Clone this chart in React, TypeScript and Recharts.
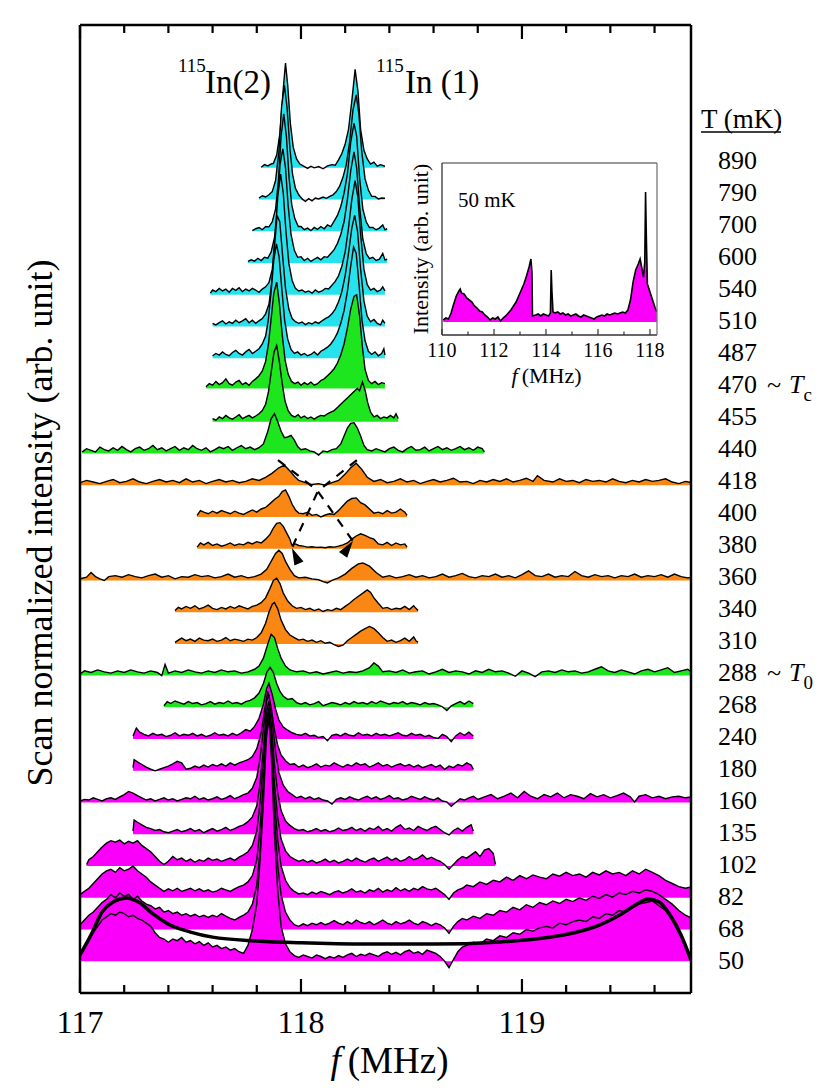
import { ComposedChart, Area, Line, Scatter, XAxis, YAxis, Label } from "recharts"

type Pt = [number, number]

const SERIF = "'Liberation Serif', 'Times New Roman', Times, serif"

// temperature of each scan, top to bottom (mK)
const temps = ["890", "790", "700", "600", "540", "510", "487", "470", "455", "440", "418", "400", "380", "360", "340", "310", "288", "268", "240", "180", "160", "135", "102", "82", "68", "50"]
// vertical offset of each scan (arb. unit)
const offsets = [26, 25, 24, 23, 22, 21, 20, 19.05, 18, 17, 16, 15, 14, 13, 12, 11, 10, 9, 8, 7, 6, 5, 4, 3, 2, 1]
// phase of each scan: n normal, s transition, a A-phase, m low-T
const phases = ["n", "n", "n", "n", "n", "n", "n", "s", "s", "s", "a", "a", "a", "a", "a", "a", "s", "s", "m", "m", "m", "m", "m", "m", "m", "m"]
const phaseColor: Record<string, string> = { n: "#26E2EC", s: "#1EE61E", a: "#FA8714", m: "#FA00FA" }

// spectra: [f (MHz), intensity above own baseline]
const s890: Pt[] = [[117.82,0.02],[117.835,0.1],[117.85,0.06],[117.865,0.12],[117.875,0.14],[117.89,0.4],[117.905,1.1],[117.92,2.5],[117.93,3.3],[117.94,2.6],[117.952,1.4],[117.965,0.65],[117.98,0.28],[117.995,0.12],[118.01,0.06],[118.03,-0.02],[118.045,0.05],[118.06,0.0],[118.08,0.04],[118.1,-0.03],[118.12,0.06],[118.14,0.1],[118.155,0.08],[118.17,0.25],[118.185,0.45],[118.2,0.75],[118.215,1.2],[118.23,2.1],[118.245,3.1],[118.258,2.4],[118.27,1.2],[118.285,0.55],[118.3,0.28],[118.315,0.12],[118.33,0.18],[118.345,0.05],[118.36,0.1],[118.38,0.05]]
const s790: Pt[] = [[117.81,0.05],[117.825,0.12],[117.84,0.08],[117.855,0.15],[117.87,0.25],[117.885,0.6],[117.9,1.5],[117.912,2.9],[117.925,3.6],[117.937,2.9],[117.95,1.6],[117.962,0.8],[117.975,0.35],[117.99,0.15],[118.005,0.02],[118.02,-0.06],[118.035,0.03],[118.05,-0.04],[118.065,0.05],[118.08,0.02],[118.1,0.08],[118.115,0.04],[118.13,0.1],[118.145,0.15],[118.16,0.25],[118.175,0.42],[118.19,0.7],[118.205,1.1],[118.22,1.8],[118.235,2.8],[118.25,3.3],[118.262,2.7],[118.275,1.5],[118.29,0.65],[118.305,0.3],[118.32,0.1],[118.335,0.1],[118.35,0.02],[118.365,0.05],[118.38,0.04]]
const s700: Pt[] = [[117.78,0.02],[117.795,0.08],[117.81,0.12],[117.825,0.05],[117.84,0.15],[117.855,0.14],[117.87,0.3],[117.885,0.7],[117.898,1.6],[117.91,3.0],[117.922,3.7],[117.934,3.0],[117.946,1.7],[117.958,0.85],[117.972,0.4],[117.988,0.15],[118.0,0.15],[118.015,0.05],[118.03,0.1],[118.045,0.02],[118.06,0.12],[118.075,0.06],[118.09,0.15],[118.105,0.08],[118.12,0.2],[118.135,0.15],[118.15,0.32],[118.165,0.5],[118.18,0.78],[118.195,1.2],[118.21,1.8],[118.225,2.8],[118.24,3.4],[118.252,3.0],[118.265,1.7],[118.28,0.7],[118.295,0.3],[118.31,0.12],[118.325,0.12],[118.34,0.05],[118.355,0.1],[118.37,0.2],[118.38,0.05],[118.39,0.08]]
const s600: Pt[] = [[117.76,0.05],[117.775,0.1],[117.79,0.06],[117.805,0.15],[117.82,0.08],[117.835,0.18],[117.85,0.15],[117.865,0.35],[117.88,0.8],[117.893,1.7],[117.905,3.1],[117.918,3.6],[117.93,3.0],[117.942,1.8],[117.955,0.9],[117.97,0.4],[117.985,0.18],[118.0,0.2],[118.015,0.08],[118.03,0.15],[118.045,0.05],[118.06,0.12],[118.075,0.18],[118.09,0.1],[118.105,0.2],[118.12,0.18],[118.135,0.3],[118.15,0.42],[118.165,0.62],[118.18,0.9],[118.195,1.3],[118.21,2.0],[118.225,2.9],[118.24,3.5],[118.252,3.0],[118.265,1.8],[118.28,0.75],[118.295,0.3],[118.31,0.14],[118.325,0.18],[118.34,0.08],[118.355,0.12],[118.37,0.3],[118.38,0.1],[118.39,0.12]]
const s540: Pt[] = [[117.59,0.05],[117.6,0.15],[117.615,0.1],[117.63,0.2],[117.645,0.12],[117.66,0.18],[117.675,0.08],[117.69,0.2],[117.705,0.14],[117.72,0.22],[117.735,0.1],[117.75,0.18],[117.765,0.12],[117.78,0.2],[117.795,0.15],[117.81,0.08],[117.825,0.18],[117.84,0.25],[117.855,0.38],[117.87,0.8],[117.883,1.8],[117.895,3.1],[117.908,3.8],[117.92,3.2],[117.932,2.0],[117.945,1.0],[117.96,0.45],[117.975,0.2],[117.99,0.12],[118.005,0.15],[118.02,0.08],[118.035,0.12],[118.05,0.05],[118.065,0.15],[118.08,0.08],[118.095,0.12],[118.11,0.2],[118.125,0.18],[118.14,0.3],[118.155,0.42],[118.17,0.6],[118.185,0.9],[118.2,1.35],[118.215,2.1],[118.23,3.0],[118.245,3.6],[118.257,3.1],[118.27,1.9],[118.285,0.8],[118.3,0.32],[118.315,0.15],[118.33,0.2],[118.345,0.1],[118.36,0.15],[118.37,0.25],[118.38,0.12]]
const s510: Pt[] = [[117.6,0.1],[117.615,0.05],[117.63,0.12],[117.645,0.18],[117.66,0.08],[117.675,0.15],[117.69,0.1],[117.705,0.2],[117.72,0.12],[117.735,0.18],[117.75,0.25],[117.765,0.12],[117.78,0.2],[117.795,0.1],[117.81,0.18],[117.825,0.25],[117.84,0.4],[117.855,0.7],[117.868,1.4],[117.88,2.5],[117.892,3.5],[117.904,3.3],[117.916,2.3],[117.93,1.2],[117.945,0.55],[117.96,0.25],[117.975,0.15],[117.99,0.1],[118.005,0.14],[118.02,0.06],[118.035,0.12],[118.05,0.08],[118.065,0.15],[118.08,0.1],[118.095,0.18],[118.11,0.25],[118.125,0.3],[118.14,0.4],[118.155,0.55],[118.17,0.78],[118.185,1.1],[118.2,1.6],[118.215,2.3],[118.23,3.1],[118.243,3.5],[118.256,3.0],[118.27,1.8],[118.285,0.8],[118.3,0.32],[118.315,0.15],[118.33,0.22],[118.345,0.1],[118.36,0.05],[118.37,0.2],[118.38,0.1]]
const s487: Pt[] = [[117.6,0.08],[117.615,0.15],[117.63,0.1],[117.645,0.2],[117.66,0.12],[117.675,0.08],[117.69,0.18],[117.705,0.25],[117.72,0.15],[117.735,0.1],[117.75,0.2],[117.765,0.28],[117.78,0.15],[117.795,0.22],[117.81,0.3],[117.825,0.45],[117.84,0.7],[117.852,1.2],[117.865,2.1],[117.877,3.1],[117.889,3.6],[117.901,3.2],[117.913,2.2],[117.926,1.2],[117.94,0.6],[117.955,0.28],[117.97,0.15],[117.985,0.2],[118.0,0.1],[118.015,0.15],[118.03,0.08],[118.045,0.12],[118.06,0.2],[118.075,0.1],[118.09,0.22],[118.105,0.28],[118.12,0.35],[118.135,0.45],[118.15,0.6],[118.165,0.8],[118.18,1.1],[118.195,1.5],[118.21,2.1],[118.225,2.9],[118.238,3.5],[118.25,3.3],[118.263,2.3],[118.276,1.2],[118.29,0.55],[118.305,0.22],[118.32,0.12],[118.335,0.2],[118.35,0.08],[118.365,0.15],[118.375,0.3],[118.38,0.1]]
const s470: Pt[] = [[117.57,0.05],[117.585,0.15],[117.6,0.1],[117.615,0.22],[117.63,0.12],[117.645,0.18],[117.66,0.3],[117.675,0.15],[117.69,0.1],[117.705,0.2],[117.72,0.25],[117.735,0.12],[117.75,0.18],[117.765,0.1],[117.78,0.22],[117.795,0.3],[117.81,0.4],[117.825,0.55],[117.84,0.85],[117.853,1.4],[117.865,2.2],[117.877,3.0],[117.89,3.35],[117.902,2.7],[117.915,1.7],[117.928,0.9],[117.942,0.45],[117.957,0.22],[117.972,0.15],[117.987,0.2],[118.0,0.1],[118.015,0.18],[118.03,0.12],[118.045,0.2],[118.06,0.1],[118.075,0.15],[118.09,0.25],[118.105,0.3],[118.12,0.4],[118.135,0.5],[118.15,0.62],[118.165,0.8],[118.18,1.05],[118.195,1.4],[118.21,1.9],[118.225,2.5],[118.24,2.9],[118.252,2.95],[118.265,2.3],[118.278,1.3],[118.29,0.6],[118.305,0.25],[118.32,0.15],[118.335,0.22],[118.35,0.12],[118.365,0.18],[118.38,0.15]]
const s455: Pt[] = [[117.6,0.1],[117.615,0.05],[117.63,0.15],[117.645,0.1],[117.66,0.2],[117.675,0.12],[117.69,0.08],[117.705,0.15],[117.72,0.22],[117.735,0.1],[117.75,0.15],[117.765,0.2],[117.78,0.12],[117.795,0.18],[117.81,0.25],[117.825,0.35],[117.84,0.55],[117.853,0.95],[117.866,1.6],[117.878,2.2],[117.89,2.4],[117.902,1.9],[117.915,1.2],[117.928,0.65],[117.942,0.35],[117.957,0.2],[117.972,0.15],[117.987,0.22],[118.0,0.12],[118.015,0.18],[118.03,0.1],[118.045,0.15],[118.06,0.08],[118.075,0.15],[118.09,0.2],[118.105,0.18],[118.12,0.25],[118.135,0.3],[118.15,0.35],[118.165,0.45],[118.18,0.55],[118.195,0.65],[118.21,0.75],[118.225,0.85],[118.24,0.95],[118.255,1.05],[118.265,0.98],[118.278,1.25],[118.29,1.0],[118.302,0.6],[118.315,0.3],[118.33,0.15],[118.345,0.2],[118.36,0.1],[118.375,0.15],[118.39,0.12],[118.405,0.2],[118.42,0.12],[118.43,0.25],[118.44,0.1]]
const s440: Pt[] = [[117.01,0.05],[117.03,0.15],[117.05,0.1],[117.07,0.05],[117.09,0.2],[117.11,0.12],[117.13,0.08],[117.15,0.18],[117.17,0.1],[117.19,0.22],[117.21,0.12],[117.23,0.05],[117.25,0.15],[117.27,0.2],[117.29,0.1],[117.31,0.15],[117.33,0.25],[117.35,0.12],[117.37,0.18],[117.39,0.08],[117.41,0.15],[117.43,0.22],[117.45,0.1],[117.47,0.18],[117.49,0.12],[117.51,0.25],[117.53,0.15],[117.55,0.1],[117.57,0.18],[117.59,0.05],[117.61,0.12],[117.63,0.2],[117.65,0.15],[117.67,0.22],[117.69,0.1],[117.71,0.18],[117.73,0.25],[117.75,0.15],[117.77,0.2],[117.79,0.12],[117.81,0.18],[117.83,0.3],[117.85,0.7],[117.865,1.1],[117.88,1.25],[117.895,1.0],[117.91,0.7],[117.925,0.5],[117.94,0.52],[117.955,0.57],[117.97,0.42],[117.985,0.22],[118.0,0.12],[118.02,0.15],[118.04,0.08],[118.06,0.05],[118.08,-0.05],[118.1,0.08],[118.12,0.05],[118.14,0.12],[118.16,0.15],[118.18,0.3],[118.195,0.55],[118.21,0.8],[118.225,0.95],[118.24,0.97],[118.255,0.8],[118.27,0.55],[118.285,0.25],[118.3,0.12],[118.32,0.08],[118.34,0.15],[118.36,0.1],[118.38,0.05],[118.4,0.15],[118.42,0.2],[118.44,0.1],[118.46,0.05],[118.48,0.15],[118.5,0.22],[118.52,0.1],[118.54,0.12],[118.56,0.2],[118.58,0.08],[118.6,0.15],[118.62,0.22],[118.64,0.12],[118.66,0.18],[118.68,0.1],[118.7,0.15],[118.72,0.22],[118.74,0.12],[118.76,0.18],[118.78,0.1],[118.8,0.2],[118.82,0.15],[118.83,0.05]]
const s418: Pt[] = [[117.0,0.08],[117.03,0.15],[117.06,0.1],[117.09,0.05],[117.12,0.12],[117.15,0.18],[117.18,0.08],[117.21,0.12],[117.24,0.2],[117.27,0.1],[117.3,0.05],[117.33,0.12],[117.36,0.18],[117.39,0.1],[117.42,0.15],[117.45,0.08],[117.48,0.2],[117.51,0.1],[117.54,0.15],[117.57,0.05],[117.6,0.12],[117.63,0.18],[117.66,0.1],[117.69,0.15],[117.72,0.08],[117.75,0.12],[117.78,0.2],[117.81,0.15],[117.84,0.25],[117.87,0.38],[117.9,0.55],[117.925,0.63],[117.95,0.45],[117.97,0.28],[117.99,0.15],[118.02,0.08],[118.05,0.02],[118.08,0.05],[118.11,0.0],[118.14,0.08],[118.17,0.15],[118.2,0.35],[118.225,0.55],[118.25,0.69],[118.275,0.5],[118.3,0.25],[118.33,0.12],[118.36,0.18],[118.39,0.08],[118.42,0.12],[118.45,0.2],[118.48,0.1],[118.51,0.15],[118.54,0.05],[118.57,0.12],[118.6,0.18],[118.63,0.1],[118.66,0.15],[118.69,0.22],[118.72,0.1],[118.75,0.12],[118.78,0.05],[118.81,0.15],[118.84,0.1],[118.87,0.18],[118.9,0.12],[118.93,0.2],[118.96,0.1],[118.99,0.15],[119.02,0.22],[119.05,0.12],[119.07,0.3],[119.1,0.15],[119.14,0.1],[119.17,0.2],[119.2,0.12],[119.23,0.15],[119.26,0.08],[119.29,0.18],[119.32,0.12],[119.35,0.15],[119.38,0.1],[119.41,0.2],[119.44,0.12],[119.47,0.08],[119.5,0.15],[119.53,0.1],[119.56,0.18],[119.59,0.12],[119.62,0.15],[119.65,0.2],[119.68,0.1],[119.71,0.05],[119.74,0.12],[119.77,0.08]]
const s400: Pt[] = [[117.53,0.05],[117.545,0.2],[117.56,0.15],[117.58,0.1],[117.6,0.18],[117.62,0.12],[117.64,0.2],[117.66,0.15],[117.68,0.1],[117.7,0.18],[117.72,0.12],[117.74,0.08],[117.76,0.15],[117.78,0.22],[117.8,0.15],[117.82,0.25],[117.84,0.3],[117.86,0.42],[117.88,0.55],[117.9,0.65],[117.915,0.8],[117.93,0.85],[117.945,0.65],[117.96,0.4],[117.975,0.22],[117.99,0.12],[118.01,0.1],[118.03,0.15],[118.05,0.05],[118.07,0.08],[118.09,0.0],[118.11,0.06],[118.13,0.1],[118.15,0.08],[118.17,0.2],[118.19,0.35],[118.21,0.5],[118.23,0.58],[118.25,0.6],[118.27,0.45],[118.29,0.38],[118.31,0.25],[118.33,0.12],[118.35,0.15],[118.37,0.1],[118.39,0.2],[118.41,0.12],[118.43,0.15],[118.45,0.25],[118.47,0.15],[118.48,0.05]]
const s380: Pt[] = [[117.53,0.05],[117.545,0.18],[117.56,0.12],[117.58,0.2],[117.6,0.1],[117.62,0.15],[117.64,0.08],[117.66,0.12],[117.68,0.18],[117.7,0.1],[117.72,0.15],[117.74,0.12],[117.76,0.2],[117.78,0.15],[117.8,0.22],[117.82,0.18],[117.84,0.3],[117.86,0.45],[117.875,0.65],[117.89,0.8],[117.905,0.82],[117.92,0.7],[117.935,0.5],[117.95,0.3],[117.958,0.12],[117.975,0.15],[117.99,0.1],[118.01,0.08],[118.03,0.05],[118.05,0.06],[118.07,0.04],[118.09,0.05],[118.11,0.03],[118.13,0.06],[118.15,0.05],[118.17,0.08],[118.19,0.12],[118.21,0.18],[118.23,0.3],[118.25,0.4],[118.27,0.47],[118.29,0.42],[118.31,0.35],[118.33,0.3],[118.35,0.15],[118.37,0.12],[118.39,0.2],[118.41,0.1],[118.43,0.18],[118.45,0.12],[118.47,0.15],[118.48,0.05]]
const s360: Pt[] = [[117.0,0.05],[117.03,0.1],[117.05,0.25],[117.07,0.12],[117.09,0.05],[117.11,0.0],[117.13,0.12],[117.16,0.15],[117.19,0.1],[117.22,0.18],[117.25,0.12],[117.28,0.08],[117.31,0.15],[117.34,0.2],[117.37,0.1],[117.4,0.15],[117.43,0.05],[117.46,0.12],[117.49,0.1],[117.52,0.18],[117.55,0.12],[117.58,0.15],[117.61,0.08],[117.64,0.12],[117.67,0.2],[117.7,0.1],[117.73,0.15],[117.76,0.08],[117.79,0.12],[117.82,0.2],[117.845,0.35],[117.865,0.6],[117.885,0.85],[117.9,0.95],[117.915,0.85],[117.93,0.6],[117.95,0.35],[117.97,0.15],[117.99,0.08],[118.02,0.1],[118.05,0.05],[118.08,0.02],[118.1,-0.04],[118.12,-0.08],[118.14,0.0],[118.17,0.08],[118.2,0.2],[118.23,0.38],[118.26,0.52],[118.28,0.55],[118.31,0.45],[118.34,0.25],[118.37,0.1],[118.4,0.15],[118.43,0.08],[118.46,0.12],[118.49,0.18],[118.52,0.1],[118.55,0.15],[118.58,0.08],[118.61,0.12],[118.64,0.2],[118.67,0.1],[118.7,0.15],[118.73,0.22],[118.76,0.12],[118.79,0.08],[118.82,0.15],[118.85,0.12],[118.88,0.2],[118.91,0.1],[118.94,0.15],[118.97,0.08],[119.0,0.18],[119.03,0.3],[119.06,0.15],[119.09,0.12],[119.12,0.2],[119.15,0.1],[119.18,0.15],[119.21,0.12],[119.24,0.28],[119.27,0.15],[119.3,0.1],[119.33,0.18],[119.36,0.12],[119.39,0.15],[119.42,0.08],[119.45,0.15],[119.48,0.12],[119.51,0.2],[119.54,0.1],[119.57,0.15],[119.6,0.12],[119.63,0.18],[119.66,0.1],[119.69,0.2],[119.72,0.12],[119.75,0.08],[119.77,0.1]]
const s340: Pt[] = [[117.43,0.05],[117.445,0.15],[117.46,0.1],[117.48,0.18],[117.5,0.12],[117.52,0.2],[117.54,0.1],[117.56,0.15],[117.58,0.22],[117.6,0.12],[117.62,0.08],[117.64,0.15],[117.66,0.1],[117.68,0.18],[117.7,0.12],[117.72,0.2],[117.74,0.15],[117.76,0.1],[117.78,0.18],[117.8,0.22],[117.82,0.3],[117.84,0.45],[117.86,0.75],[117.875,1.0],[117.89,1.07],[117.905,0.9],[117.92,0.6],[117.94,0.35],[117.96,0.2],[117.98,0.12],[118.0,0.15],[118.02,0.08],[118.04,0.12],[118.06,0.05],[118.08,0.1],[118.1,0.02],[118.12,0.08],[118.14,0.05],[118.16,0.12],[118.18,0.08],[118.2,0.18],[118.22,0.28],[118.24,0.4],[118.26,0.5],[118.28,0.6],[118.3,0.7],[118.315,0.62],[118.33,0.45],[118.35,0.28],[118.37,0.12],[118.39,0.15],[118.41,0.08],[118.43,0.12],[118.45,0.1],[118.47,0.18],[118.49,0.08],[118.51,0.2],[118.52,0.12],[118.53,0.05]]
const s310: Pt[] = [[117.43,0.05],[117.445,0.12],[117.46,0.18],[117.48,0.1],[117.5,0.15],[117.52,0.08],[117.54,0.18],[117.56,0.12],[117.58,0.1],[117.6,0.15],[117.62,0.08],[117.64,0.12],[117.66,0.2],[117.68,0.1],[117.7,0.15],[117.72,0.12],[117.74,0.08],[117.76,0.15],[117.78,0.12],[117.8,0.2],[117.82,0.35],[117.84,0.65],[117.855,1.0],[117.87,1.25],[117.88,1.3],[117.895,1.1],[117.91,0.75],[117.93,0.45],[117.95,0.28],[117.97,0.2],[117.99,0.12],[118.01,0.15],[118.03,0.08],[118.05,0.12],[118.07,0.05],[118.09,0.1],[118.11,0.02],[118.13,0.05],[118.15,-0.02],[118.17,-0.08],[118.19,-0.04],[118.21,0.1],[118.23,0.2],[118.25,0.3],[118.27,0.4],[118.29,0.48],[118.31,0.55],[118.33,0.48],[118.35,0.35],[118.37,0.2],[118.39,0.08],[118.41,0.12],[118.43,0.05],[118.45,0.1],[118.47,0.18],[118.49,0.08],[118.51,0.22],[118.52,0.1],[118.53,0.05]]
const s288: Pt[] = [[117.0,0.05],[117.02,0.15],[117.05,0.1],[117.08,0.18],[117.11,0.12],[117.14,0.08],[117.17,0.15],[117.2,0.1],[117.23,0.18],[117.26,0.12],[117.29,0.08],[117.32,0.15],[117.35,0.1],[117.37,0.0],[117.385,0.35],[117.4,0.08],[117.43,0.15],[117.46,0.1],[117.49,0.18],[117.52,0.12],[117.55,0.08],[117.58,0.15],[117.61,0.1],[117.64,0.18],[117.67,0.12],[117.7,0.15],[117.73,0.08],[117.76,0.12],[117.79,0.2],[117.81,0.3],[117.83,0.55],[117.85,1.0],[117.865,1.3],[117.88,1.2],[117.895,0.85],[117.91,0.55],[117.93,0.3],[117.95,0.18],[117.98,0.12],[118.01,0.15],[118.04,0.08],[118.07,0.12],[118.1,0.05],[118.13,0.1],[118.16,0.15],[118.19,0.08],[118.22,0.12],[118.25,0.1],[118.28,0.15],[118.31,0.25],[118.33,0.4],[118.35,0.3],[118.37,0.12],[118.4,0.15],[118.43,0.1],[118.46,0.18],[118.49,0.08],[118.52,0.12],[118.55,0.15],[118.58,0.05],[118.61,0.12],[118.64,0.2],[118.67,0.1],[118.7,0.15],[118.73,0.12],[118.76,0.05],[118.79,0.15],[118.82,0.1],[118.85,0.2],[118.88,0.12],[118.91,0.15],[118.94,0.08],[118.97,-0.02],[119.0,0.15],[119.03,0.08],[119.06,-0.03],[119.09,0.12],[119.12,0.15],[119.15,0.1],[119.18,0.18],[119.21,0.12],[119.24,0.15],[119.27,0.08],[119.3,0.12],[119.33,0.2],[119.36,0.28],[119.39,0.15],[119.42,0.1],[119.45,0.18],[119.48,0.12],[119.51,0.05],[119.54,0.15],[119.57,0.2],[119.6,0.12],[119.63,0.18],[119.66,0.25],[119.69,0.1],[119.72,0.15],[119.75,0.2],[119.77,0.1]]
const s268: Pt[] = [[117.38,0.05],[117.395,0.18],[117.41,0.12],[117.43,0.2],[117.45,0.15],[117.47,0.1],[117.49,0.18],[117.51,0.12],[117.53,0.15],[117.55,0.08],[117.57,0.12],[117.59,0.18],[117.61,0.1],[117.63,0.15],[117.65,0.12],[117.67,0.2],[117.69,0.12],[117.71,0.15],[117.73,0.1],[117.75,0.18],[117.77,0.22],[117.79,0.3],[117.81,0.45],[117.83,0.75],[117.845,1.1],[117.86,1.26],[117.875,1.1],[117.89,0.75],[117.905,0.5],[117.92,0.35],[117.94,0.25],[117.96,0.28],[117.98,0.15],[118.0,0.1],[118.02,0.15],[118.04,0.08],[118.06,0.12],[118.08,0.18],[118.1,0.05],[118.12,0.1],[118.14,0.15],[118.16,0.12],[118.18,0.08],[118.2,0.15],[118.22,0.1],[118.24,0.18],[118.26,0.12],[118.28,0.15],[118.3,0.1],[118.32,0.18],[118.34,0.12],[118.36,0.2],[118.38,0.15],[118.4,0.1],[118.42,0.15],[118.44,0.12],[118.46,0.18],[118.48,0.1],[118.5,0.15],[118.52,0.12],[118.54,0.08],[118.56,0.15],[118.58,0.1],[118.6,0.12],[118.62,0.08],[118.64,0.02],[118.66,-0.1],[118.68,0.05],[118.7,0.12],[118.72,0.18],[118.74,0.1],[118.76,0.2],[118.78,0.12]]
const s240: Pt[] = [[117.24,0.1],[117.255,0.35],[117.27,0.22],[117.29,0.15],[117.31,0.1],[117.33,0.18],[117.35,0.12],[117.37,0.15],[117.39,0.08],[117.41,0.12],[117.43,0.2],[117.45,0.1],[117.47,0.15],[117.49,0.12],[117.51,0.18],[117.53,0.1],[117.55,0.15],[117.57,0.08],[117.59,0.12],[117.61,0.2],[117.63,0.12],[117.65,0.15],[117.67,0.1],[117.69,0.18],[117.71,0.12],[117.73,0.2],[117.75,0.3],[117.77,0.25],[117.79,0.4],[117.81,0.65],[117.83,1.1],[117.845,1.6],[117.855,1.76],[117.87,1.4],[117.885,0.95],[117.9,0.6],[117.92,0.38],[117.94,0.28],[117.96,0.2],[117.98,0.15],[118.0,0.12],[118.02,0.18],[118.04,0.1],[118.06,0.12],[118.08,0.05],[118.1,0.08],[118.12,-0.05],[118.14,0.12],[118.16,0.15],[118.18,0.1],[118.2,0.18],[118.22,0.12],[118.24,0.1],[118.26,0.2],[118.28,0.12],[118.3,0.15],[118.32,0.1],[118.34,0.18],[118.36,0.12],[118.38,0.15],[118.4,0.1],[118.42,0.15],[118.44,0.2],[118.46,0.12],[118.48,0.1],[118.5,0.18],[118.52,0.12],[118.54,0.15],[118.56,0.08],[118.58,0.12],[118.6,0.05],[118.62,0.02],[118.64,0.15],[118.66,0.08],[118.68,-0.08],[118.7,0.1],[118.72,0.2],[118.74,0.12],[118.76,0.22],[118.78,0.1]]
const s180: Pt[] = [[117.24,0.1],[117.245,0.35],[117.26,0.28],[117.28,0.2],[117.3,0.12],[117.32,0.05],[117.34,0.0],[117.36,0.05],[117.38,0.1],[117.4,0.15],[117.42,0.22],[117.44,0.3],[117.46,0.25],[117.48,0.05],[117.5,0.08],[117.52,0.15],[117.54,0.1],[117.56,0.18],[117.58,0.12],[117.6,0.2],[117.62,0.15],[117.64,0.22],[117.66,0.15],[117.68,0.25],[117.7,0.18],[117.72,0.25],[117.74,0.3],[117.76,0.35],[117.78,0.45],[117.8,0.7],[117.82,1.2],[117.835,1.9],[117.85,2.5],[117.865,2.0],[117.88,1.3],[117.895,0.8],[117.91,0.5],[117.93,0.32],[117.95,0.2],[117.97,0.22],[117.99,0.12],[118.01,0.18],[118.03,0.1],[118.05,0.15],[118.07,0.22],[118.09,0.12],[118.11,0.18],[118.13,0.15],[118.15,0.25],[118.17,0.18],[118.19,0.12],[118.21,0.2],[118.23,0.15],[118.25,0.25],[118.27,0.18],[118.29,0.22],[118.31,0.12],[118.33,0.18],[118.35,0.25],[118.37,0.15],[118.39,0.2],[118.41,0.12],[118.43,0.18],[118.45,0.22],[118.47,0.15],[118.49,0.2],[118.51,0.12],[118.53,0.18],[118.55,0.1],[118.57,0.15],[118.59,0.2],[118.61,0.12],[118.63,0.18],[118.65,0.05],[118.67,0.15],[118.69,0.1],[118.71,0.2],[118.73,0.15],[118.75,0.25],[118.77,0.18],[118.78,0.05]]
const s160: Pt[] = [[117.0,0.05],[117.02,0.1],[117.04,0.08],[117.06,0.15],[117.08,0.1],[117.1,0.05],[117.12,0.12],[117.14,0.15],[117.16,0.1],[117.18,0.18],[117.2,0.25],[117.22,0.35],[117.24,0.3],[117.26,0.22],[117.28,0.15],[117.3,0.08],[117.32,0.12],[117.34,0.05],[117.36,0.1],[117.38,0.15],[117.4,0.08],[117.42,0.12],[117.44,0.05],[117.46,0.1],[117.48,0.15],[117.5,0.12],[117.52,0.2],[117.54,0.1],[117.56,0.15],[117.58,0.08],[117.6,0.12],[117.62,0.18],[117.64,0.1],[117.66,0.15],[117.68,0.22],[117.7,0.12],[117.72,0.18],[117.74,0.25],[117.76,0.3],[117.78,0.45],[117.8,0.8],[117.815,1.4],[117.83,2.3],[117.845,3.2],[117.855,3.4],[117.87,2.6],[117.885,1.6],[117.9,0.95],[117.92,0.55],[117.94,0.35],[117.96,0.25],[117.98,0.15],[118.0,0.2],[118.02,0.12],[118.04,0.18],[118.06,0.1],[118.08,0.15],[118.1,0.08],[118.12,0.05],[118.14,-0.05],[118.16,0.1],[118.18,0.15],[118.2,0.1],[118.22,0.18],[118.24,0.12],[118.26,0.08],[118.28,0.15],[118.3,0.2],[118.32,0.12],[118.34,0.18],[118.36,0.1],[118.38,0.15],[118.4,0.22],[118.42,0.12],[118.44,0.15],[118.46,0.08],[118.48,0.12],[118.5,0.2],[118.52,0.15],[118.54,0.1],[118.56,0.18],[118.58,0.12],[118.6,0.08],[118.62,0.15],[118.64,0.05],[118.66,0.02],[118.68,-0.12],[118.7,0.0],[118.72,0.12],[118.74,0.08],[118.76,0.15],[118.78,0.2],[118.8,0.1],[118.83,0.18],[118.86,0.25],[118.89,0.12],[118.92,0.2],[118.95,0.3],[118.98,0.15],[119.01,0.35],[119.04,0.2],[119.07,0.12],[119.1,0.25],[119.13,0.18],[119.16,0.3],[119.19,0.15],[119.22,0.25],[119.25,0.2],[119.28,0.12],[119.31,0.28],[119.34,0.18],[119.37,0.25],[119.4,0.15],[119.43,0.22],[119.46,0.3],[119.49,0.18],[119.51,0.02],[119.53,0.2],[119.56,0.25],[119.59,0.15],[119.62,0.2],[119.65,0.12],[119.68,0.18],[119.71,0.2],[119.74,0.15],[119.77,0.18]]
const s135: Pt[] = [[117.24,0.1],[117.245,0.45],[117.26,0.38],[117.28,0.3],[117.3,0.22],[117.32,0.18],[117.34,0.12],[117.36,0.15],[117.38,0.08],[117.4,0.05],[117.42,0.1],[117.44,0.15],[117.46,0.08],[117.48,0.12],[117.5,0.18],[117.52,0.1],[117.54,0.15],[117.56,0.05],[117.58,0.12],[117.6,0.18],[117.62,0.1],[117.64,0.15],[117.66,0.22],[117.68,0.12],[117.7,0.18],[117.72,0.25],[117.74,0.3],[117.76,0.4],[117.78,0.55],[117.8,0.9],[117.815,1.6],[117.83,2.7],[117.843,3.8],[117.855,4.2],[117.867,3.4],[117.88,2.2],[117.895,1.3],[117.91,0.75],[117.93,0.42],[117.95,0.28],[117.97,0.18],[117.99,0.12],[118.01,0.15],[118.03,0.08],[118.05,0.12],[118.07,0.18],[118.09,0.1],[118.11,0.15],[118.13,0.08],[118.15,0.12],[118.17,0.2],[118.19,0.12],[118.21,0.15],[118.23,0.22],[118.25,0.12],[118.27,0.18],[118.29,0.1],[118.31,0.2],[118.33,0.15],[118.35,0.25],[118.37,0.12],[118.39,0.18],[118.41,0.1],[118.43,0.22],[118.45,0.3],[118.47,0.15],[118.49,0.2],[118.51,0.12],[118.53,0.25],[118.55,0.18],[118.57,0.12],[118.59,0.2],[118.61,0.25],[118.63,0.15],[118.65,0.05],[118.67,-0.02],[118.69,0.12],[118.71,0.2],[118.73,0.1],[118.75,0.22],[118.77,0.3],[118.78,0.1]]
const s102: Pt[] = [[117.03,0.05],[117.04,0.2],[117.06,0.3],[117.08,0.45],[117.1,0.6],[117.12,0.72],[117.14,0.8],[117.16,0.75],[117.18,0.82],[117.2,0.7],[117.22,0.78],[117.24,0.72],[117.26,0.8],[117.28,0.65],[117.3,0.55],[117.32,0.45],[117.34,0.3],[117.36,0.15],[117.38,0.05],[117.4,0.15],[117.42,0.3],[117.44,0.2],[117.46,0.25],[117.48,0.15],[117.5,0.22],[117.52,0.12],[117.54,0.2],[117.56,0.15],[117.58,0.25],[117.6,0.18],[117.62,0.22],[117.64,0.15],[117.66,0.2],[117.68,0.25],[117.7,0.18],[117.72,0.28],[117.74,0.35],[117.76,0.45],[117.78,0.65],[117.8,1.1],[117.815,2.0],[117.83,3.3],[117.843,4.6],[117.855,5.0],[117.867,4.0],[117.88,2.6],[117.895,1.5],[117.91,0.85],[117.93,0.48],[117.95,0.3],[117.97,0.22],[117.99,0.15],[118.01,0.2],[118.03,0.12],[118.05,0.18],[118.07,0.1],[118.09,0.15],[118.11,0.22],[118.13,0.12],[118.15,0.18],[118.17,0.1],[118.19,0.15],[118.21,0.22],[118.23,0.15],[118.25,0.25],[118.27,0.18],[118.29,0.12],[118.31,0.2],[118.33,0.25],[118.35,0.15],[118.37,0.22],[118.39,0.28],[118.41,0.18],[118.43,0.25],[118.45,0.15],[118.47,0.2],[118.49,0.3],[118.51,0.2],[118.53,0.25],[118.55,0.35],[118.57,0.22],[118.59,0.28],[118.61,0.2],[118.63,0.15],[118.65,0.05],[118.67,-0.1],[118.69,0.05],[118.71,0.2],[118.73,0.3],[118.75,0.25],[118.77,0.35],[118.79,0.45],[118.81,0.3],[118.83,0.5],[118.85,0.55],[118.87,0.4],[118.88,0.05]]
const s82: Pt[] = [[117.0,0.1],[117.02,0.2],[117.04,0.3],[117.06,0.45],[117.08,0.6],[117.1,0.75],[117.12,0.85],[117.14,0.9],[117.16,0.8],[117.18,0.95],[117.2,0.85],[117.22,0.9],[117.24,1.0],[117.26,0.85],[117.28,0.75],[117.3,0.65],[117.32,0.5],[117.34,0.4],[117.36,0.3],[117.38,0.2],[117.4,0.28],[117.42,0.22],[117.44,0.3],[117.46,0.2],[117.48,0.25],[117.5,0.3],[117.52,0.22],[117.54,0.28],[117.56,0.2],[117.58,0.25],[117.6,0.18],[117.62,0.22],[117.64,0.3],[117.66,0.25],[117.68,0.2],[117.7,0.28],[117.72,0.35],[117.74,0.4],[117.76,0.5],[117.78,0.7],[117.8,1.2],[117.815,2.2],[117.83,3.7],[117.843,5.3],[117.855,5.9],[117.867,4.8],[117.88,3.1],[117.895,1.8],[117.91,1.0],[117.93,0.55],[117.95,0.32],[117.97,0.2],[117.99,0.12],[118.01,0.15],[118.03,0.1],[118.05,0.18],[118.07,0.12],[118.09,0.2],[118.11,0.15],[118.13,0.1],[118.15,0.18],[118.17,0.22],[118.19,0.15],[118.21,0.2],[118.23,0.28],[118.25,0.18],[118.27,0.22],[118.29,0.15],[118.31,0.25],[118.33,0.2],[118.35,0.3],[118.37,0.18],[118.39,0.25],[118.41,0.2],[118.43,0.32],[118.45,0.22],[118.47,0.28],[118.49,0.2],[118.51,0.3],[118.53,0.25],[118.55,0.35],[118.57,0.28],[118.59,0.25],[118.61,0.3],[118.63,0.2],[118.65,0.1],[118.67,-0.05],[118.69,0.15],[118.71,0.25],[118.73,0.3],[118.75,0.4],[118.78,0.35],[118.81,0.5],[118.84,0.42],[118.87,0.55],[118.9,0.5],[118.93,0.65],[118.96,0.55],[118.99,0.7],[119.02,0.6],[119.05,0.72],[119.08,0.65],[119.11,0.6],[119.14,0.75],[119.17,0.68],[119.2,0.8],[119.23,0.7],[119.26,0.75],[119.29,0.65],[119.32,0.8],[119.35,0.72],[119.38,0.85],[119.41,0.75],[119.44,0.8],[119.47,0.7],[119.5,0.85],[119.53,0.75],[119.56,0.9],[119.59,0.8],[119.62,0.7],[119.65,0.55],[119.68,0.45],[119.71,0.35],[119.74,0.3],[119.77,0.35]]
const s68: Pt[] = [[117.0,0.15],[117.02,0.3],[117.04,0.45],[117.06,0.55],[117.08,0.7],[117.1,0.85],[117.12,0.95],[117.14,1.1],[117.16,1.0],[117.18,1.15],[117.2,1.05],[117.22,1.1],[117.24,0.95],[117.26,1.05],[117.28,0.9],[117.3,0.8],[117.32,0.75],[117.34,0.65],[117.36,0.7],[117.38,0.55],[117.4,0.6],[117.42,0.5],[117.44,0.55],[117.46,0.45],[117.48,0.5],[117.5,0.42],[117.52,0.48],[117.54,0.4],[117.56,0.45],[117.58,0.38],[117.6,0.45],[117.62,0.4],[117.64,0.5],[117.66,0.42],[117.68,0.35],[117.7,0.3],[117.72,0.38],[117.74,0.45],[117.76,0.55],[117.78,0.8],[117.8,1.4],[117.815,2.5],[117.83,4.2],[117.843,6.1],[117.855,6.8],[117.867,5.6],[117.88,3.6],[117.895,2.0],[117.91,1.1],[117.93,0.55],[117.95,0.3],[117.97,0.15],[117.99,0.1],[118.01,0.18],[118.03,0.12],[118.05,0.2],[118.07,0.15],[118.09,0.22],[118.11,0.15],[118.13,0.2],[118.15,0.28],[118.17,0.2],[118.19,0.15],[118.21,0.25],[118.23,0.18],[118.25,0.3],[118.27,0.22],[118.29,0.18],[118.31,0.25],[118.33,0.15],[118.35,0.22],[118.37,0.3],[118.39,0.2],[118.41,0.15],[118.43,0.25],[118.45,0.18],[118.47,0.22],[118.49,0.3],[118.51,0.2],[118.53,0.15],[118.55,0.25],[118.57,0.2],[118.59,0.12],[118.61,0.2],[118.63,0.15],[118.65,0.05],[118.67,-0.12],[118.69,0.1],[118.71,0.25],[118.73,0.35],[118.75,0.3],[118.78,0.42],[118.81,0.35],[118.84,0.5],[118.87,0.45],[118.9,0.6],[118.93,0.55],[118.96,0.7],[118.99,0.62],[119.02,0.78],[119.05,0.7],[119.08,0.85],[119.11,0.78],[119.14,0.9],[119.17,0.82],[119.2,0.95],[119.23,0.88],[119.26,1.0],[119.29,0.92],[119.32,1.05],[119.35,0.98],[119.38,1.1],[119.41,1.02],[119.44,1.15],[119.47,1.1],[119.5,1.2],[119.53,1.15],[119.56,1.25],[119.59,1.2],[119.62,1.1],[119.65,0.95],[119.68,0.8],[119.71,0.6],[119.74,0.45],[119.77,0.35]]
const s50: Pt[] = [[117.0,0.25],[117.02,0.45],[117.04,0.7],[117.06,0.9],[117.08,1.1],[117.1,1.3],[117.12,1.4],[117.14,1.5],[117.16,1.45],[117.18,1.55],[117.2,1.5],[117.22,1.4],[117.24,1.45],[117.26,1.35],[117.28,1.3],[117.3,1.2],[117.32,1.1],[117.34,0.9],[117.36,0.75],[117.38,0.7],[117.4,0.6],[117.42,0.7],[117.44,0.65],[117.46,0.75],[117.48,0.6],[117.5,0.65],[117.52,0.55],[117.54,0.62],[117.56,0.5],[117.58,0.58],[117.6,0.45],[117.62,0.5],[117.64,0.4],[117.66,0.45],[117.68,0.35],[117.7,0.4],[117.72,0.3],[117.74,0.25],[117.76,0.5],[117.78,1.0],[117.8,1.8],[117.815,3.2],[117.83,5.0],[117.843,7.0],[117.855,7.7],[117.867,6.3],[117.88,4.0],[117.895,2.2],[117.91,1.1],[117.93,0.55],[117.95,0.3],[117.97,0.18],[117.99,0.12],[118.01,0.2],[118.03,0.15],[118.05,0.1],[118.07,0.2],[118.09,0.15],[118.11,0.08],[118.13,0.15],[118.15,0.1],[118.17,0.18],[118.19,0.12],[118.21,0.2],[118.23,0.25],[118.25,0.15],[118.27,0.22],[118.29,0.18],[118.31,0.25],[118.33,0.2],[118.35,0.15],[118.37,0.25],[118.39,0.3],[118.41,0.22],[118.43,0.28],[118.45,0.2],[118.47,0.3],[118.49,0.35],[118.51,0.25],[118.53,0.3],[118.55,0.22],[118.57,0.35],[118.59,0.3],[118.61,0.25],[118.63,0.15],[118.65,0.0],[118.67,-0.2],[118.69,0.05],[118.71,0.3],[118.73,0.45],[118.75,0.5],[118.78,0.6],[118.81,0.55],[118.84,0.7],[118.87,0.65],[118.9,0.8],[118.93,0.75],[118.96,0.9],[118.99,0.85],[119.02,1.0],[119.05,0.95],[119.08,1.05],[119.11,1.1],[119.14,1.05],[119.17,1.2],[119.2,1.15],[119.23,1.25],[119.26,1.3],[119.29,1.25],[119.32,1.4],[119.35,1.35],[119.38,1.5],[119.41,1.45],[119.44,1.6],[119.47,1.55],[119.5,1.7],[119.53,1.8],[119.56,1.85],[119.59,1.9],[119.62,1.75],[119.65,1.6],[119.68,1.3],[119.71,0.9],[119.74,0.5],[119.77,0.1]]

const spectra = [s890, s790, s700, s600, s540, s510, s487, s470, s455, s440, s418, s400, s380, s360, s340, s310, s288, s268, s240, s180, s160, s135, s102, s82, s68, s50]

// powder-pattern fit of the 50 mK spectrum (absolute y)
const fitF = [117.0, 117.05, 117.1, 117.15, 117.21, 117.27, 117.33, 117.4, 117.5, 117.6, 117.8, 118.0, 118.3, 118.6, 118.9, 119.1, 119.25, 119.35, 119.45, 119.52, 119.57, 119.62, 119.67, 119.72, 119.765]
const fitY = [1.2, 1.83, 2.55, 2.87, 2.99, 2.84, 2.49, 2.17, 1.92, 1.76, 1.64, 1.58, 1.54, 1.54, 1.61, 1.73, 1.92, 2.14, 2.49, 2.8, 2.96, 2.87, 2.46, 1.83, 1.04]

// dashed guides following the two In lines through the A phase
const guideA: Pt[] = [[117.896, 16.79], [118.072, 15.85], [118.235, 14.24]]
const guideB: Pt[] = [[118.253, 16.79], [118.077, 15.82], [117.959, 14.02]]

// inset: wide 50 mK spectrum, [f (MHz), intensity]
const inset50: Pt[] = [[110.05,2],[110.15,4],[110.25,3],[110.35,9],[110.45,18],[110.55,26],[110.65,31],[110.7,33],[110.75,29],[110.85,28],[110.95,24],[111.05,22],[111.15,20],[111.25,16],[111.35,14],[111.45,11],[111.55,10],[111.65,7],[111.75,5],[111.85,2],[111.95,4],[112.05,3],[112.15,5],[112.25,1],[112.35,4],[112.45,6],[112.55,9],[112.65,12],[112.75,16],[112.85,20],[112.95,26],[113.05,32],[113.15,38],[113.25,46],[113.35,55],[113.42,63],[113.46,50],[113.48,6],[113.6,7],[113.7,8],[113.8,6],[113.9,8],[114.0,7],[114.1,6],[114.17,9],[114.2,52],[114.23,30],[114.27,10],[114.35,9],[114.45,10],[114.55,8],[114.65,9],[114.75,7],[114.85,8],[114.95,6],[115.05,7],[115.15,8],[115.25,6],[115.35,5],[115.45,7],[115.55,6],[115.65,5],[115.75,4],[115.85,3],[115.95,5],[116.05,6],[116.15,7],[116.25,6],[116.35,8],[116.45,7],[116.55,8],[116.65,9],[116.75,8],[116.85,9],[116.95,10],[117.05,9],[117.15,12],[117.25,22],[117.35,40],[117.45,52],[117.55,58],[117.62,63],[117.68,55],[117.75,45],[117.8,60],[117.83,130],[117.86,85],[117.9,38],[118.0,30],[118.1,22],[118.2,14],[118.27,10]]

const mainTicks = [117, 117.2, 117.4, 117.6, 117.8, 118, 118.2, 118.4, 118.6, 118.8, 119, 119.2, 119.4, 119.6]
const insetTicks = [110, 111, 112, 113, 114, 115, 116, 117, 118]
const labelIdx = temps.map((_, i) => i)

const F_DOMAIN: [number, number] = [117, 119.765]
const Y_DOMAIN: [number, number] = [0, 30.5]
const PX_F = 611 / (F_DOMAIN[1] - F_DOMAIN[0])
const PX_Y = 968 / (Y_DOMAIN[1] - Y_DOMAIN[0])

const traceRows = spectra.map((pts, i) => pts.map(([f, h]) => ({ f, y: offsets[i] + h })))
const fitRows = fitF.map((f, i) => ({ f, y: fitY[i] }))
const toRows = (pts: Pt[]) => pts.map(([f, y]) => ({ f, y }))
const arrowRows = [guideA, guideB].map((g) => {
  const [f1, y1] = g[g.length - 2]
  const [f2, y2] = g[g.length - 1]
  const ang = (Math.atan2(-(y2 - y1) * PX_Y, (f2 - f1) * PX_F) * 180) / Math.PI
  return { f: f2, y: y2, ang }
})
const insetRows = toRows(inset50)

const isMajor = (v: number) => Math.abs(v - Math.round(v)) < 1e-6

const BottomTick = (p: any) => {
  const { x, y, payload } = p
  const major = isMajor(payload.value)
  return (
    <g>
      <line x1={x} x2={x} y1={y} y2={y - (major ? 14 : 8)} stroke="#000" strokeWidth={2.2} />
      {major && (
        <text x={x} y={y + 40} textAnchor="middle" fontSize={32} fontFamily={SERIF} fill="#000">
          {payload.value}
        </text>
      )}
    </g>
  )
}

const TopTick = (p: any) => {
  const { x, y, payload } = p
  const major = isMajor(payload.value)
  return <line x1={x} x2={x} y1={y} y2={y + (major ? 14 : 8)} stroke="#000" strokeWidth={2.2} />
}

const TempTick = (p: any) => {
  const { x, y, payload } = p
  const t = temps[temps.length - 1 - payload.value]
  const sub = t === "470" ? "c" : t === "288" ? "0" : null
  return (
    <text x={x + 27} y={y + 9} fontSize={26} fontFamily={SERIF} fill="#000">
      {t}
      {sub && <tspan dx={10}>~</tspan>}
      {sub && <tspan dx={8} fontStyle="italic">T</tspan>}
      {sub && <tspan fontSize={19} dy={8}>{sub}</tspan>}
    </text>
  )
}

const MainXTitle = (p: any) => {
  const vb = p.viewBox
  return (
    <text x={vb.x + vb.width / 2 + 4} y={vb.y + 80} textAnchor="middle" fontSize={37} fontFamily={SERIF} fill="#000">
      <tspan fontStyle="italic">f</tspan>
      <tspan dx={7}>(MHz)</tspan>
    </text>
  )
}

const MainYTitle = (p: any) => {
  const vb = p.viewBox
  const x = vb.x + 52
  const y = vb.y + vb.height / 2 + 14
  return (
    <text x={x} y={y} transform={`rotate(-90, ${x}, ${y})`} textAnchor="middle" fontSize={36} fontFamily={SERIF} fill="#000">
      Scan normalized intensity (arb. unit)
    </text>
  )
}

const ArrowHead = (p: any) => {
  const { cx, cy, payload } = p
  const a = (payload.ang * Math.PI) / 180
  const dx = Math.cos(a)
  const dy = -Math.sin(a)
  const L = 17
  const W = 5
  const bx = cx - L * dx
  const by = cy - L * dy
  const nx = -dy * W
  const ny = dx * W
  return <polygon points={`${cx},${cy} ${bx + nx},${by + ny} ${bx - nx},${by - ny}`} fill="#000" />
}

const InsetBottomTick = (p: any) => {
  const { x, y, payload } = p
  const major = payload.value % 2 === 0
  return (
    <g>
      <line x1={x} x2={x} y1={y} y2={y - (major ? 6 : 3.5)} stroke="#333" strokeWidth={1.2} />
      {major && (
        <text x={x} y={y + 22} textAnchor="middle" fontSize={20} fontFamily={SERIF} fill="#000">
          {payload.value}
        </text>
      )}
    </g>
  )
}

const InsetTopTick = (p: any) => {
  const { x, y, payload } = p
  const major = payload.value % 2 === 0
  return <line x1={x} x2={x} y1={y} y2={y + (major ? 6 : 3.5)} stroke="#333" strokeWidth={1.2} />
}

const InsetXTitle = (p: any) => {
  const vb = p.viewBox
  return (
    <text x={vb.x + vb.width / 2 - 3} y={vb.y + 48} textAnchor="middle" fontSize={22} fontFamily={SERIF} fill="#000">
      <tspan fontStyle="italic">f</tspan>
      <tspan dx={4}>(MHz)</tspan>
    </text>
  )
}

const InsetYTitle = (p: any) => {
  const vb = p.viewBox
  const x = vb.x + 33
  const y = vb.y + vb.height / 2
  return (
    <text x={x} y={y} transform={`rotate(-90, ${x}, ${y})`} textAnchor="middle" fontSize={22} fontFamily={SERIF} fill="#000">
      Intensity (arb. unit)
    </text>
  )
}

export default function App() {
  return (
    <div style={{ position: "absolute", left: 0, top: 0, width: 830, height: 1090, background: "#fff", fontFamily: SERIF }}>
      <ComposedChart width={830} height={1090} margin={{ top: 0, right: 0, bottom: 0, left: 0 }}>
        <XAxis
          type="number"
          dataKey="f"
          domain={F_DOMAIN}
          allowDataOverflow
          ticks={mainTicks}
          interval={0}
          height={97}
          tickSize={0}
          tickMargin={0}
          tickLine={false}
          tick={<BottomTick />}
          axisLine={{ stroke: "#000", strokeWidth: 2.5 }}
        >
          <Label content={MainXTitle} />
        </XAxis>
        <XAxis
          xAxisId="top"
          orientation="top"
          type="number"
          dataKey="f"
          domain={F_DOMAIN}
          allowDataOverflow
          ticks={mainTicks}
          interval={0}
          height={25}
          tickSize={0}
          tickMargin={0}
          tickLine={false}
          tick={<TopTick />}
          axisLine={{ stroke: "#000", strokeWidth: 2.5 }}
        />
        <YAxis
          type="number"
          dataKey="y"
          domain={Y_DOMAIN}
          allowDataOverflow
          width={80}
          tick={false}
          tickLine={false}
          axisLine={{ stroke: "#000", strokeWidth: 2.5 }}
        >
          <Label content={MainYTitle} />
        </YAxis>
        <YAxis
          yAxisId="lab"
          orientation="right"
          type="number"
          domain={[-1.03125, 29.21875]}
          allowDataOverflow
          ticks={labelIdx}
          interval={0}
          width={139}
          tickSize={0}
          tickMargin={0}
          tickLine={false}
          tick={<TempTick />}
          axisLine={{ stroke: "#000", strokeWidth: 2.5 }}
        />
        {traceRows.map((rows, i) => (
          <Area
            key={temps[i]}
            data={rows}
            dataKey="y"
            type="linear"
            baseValue={offsets[i]}
            fill={phaseColor[phases[i]]}
            fillOpacity={1}
            stroke="#000"
            strokeWidth={1.4}
            dot={false}
            activeDot={false}
            isAnimationActive={false}
          />
        ))}
        <Line data={fitRows} dataKey="y" type="monotone" stroke="#000" strokeWidth={3.5} dot={false} activeDot={false} isAnimationActive={false} />
        <Line data={toRows(guideA)} dataKey="y" type="linear" stroke="#000" strokeWidth={2.2} strokeDasharray="9 8" dot={false} activeDot={false} isAnimationActive={false} />
        <Line data={toRows(guideB)} dataKey="y" type="linear" stroke="#000" strokeWidth={2.2} strokeDasharray="9 8" dot={false} activeDot={false} isAnimationActive={false} />
        <Scatter data={arrowRows} dataKey="y" shape={<ArrowHead />} isAnimationActive={false} />
      </ComposedChart>

      <div style={{ position: "absolute", left: 395, top: 150 }}>
        <ComposedChart width={275} height={245} margin={{ top: 0, right: 0, bottom: 0, left: 0 }}>
          <XAxis
            type="number"
            dataKey="f"
            domain={[110, 118.27]}
            allowDataOverflow
            ticks={insetTicks}
            interval={0}
            height={60}
            tickSize={0}
            tickMargin={0}
            tickLine={false}
            tick={<InsetBottomTick />}
            axisLine={{ stroke: "#333", strokeWidth: 1.3 }}
          >
            <Label content={InsetXTitle} />
          </XAxis>
          <XAxis
            xAxisId="t"
            orientation="top"
            type="number"
            domain={[110, 118.27]}
            allowDataOverflow
            ticks={insetTicks}
            interval={0}
            height={13}
            tickSize={0}
            tickMargin={0}
            tickLine={false}
            tick={<InsetTopTick />}
            axisLine={{ stroke: "#777", strokeWidth: 1.3 }}
          />
          <YAxis
            type="number"
            dataKey="y"
            domain={[-13, 159]}
            allowDataOverflow
            width={47}
            tick={false}
            tickLine={false}
            axisLine={{ stroke: "#333", strokeWidth: 1.3 }}
          >
            <Label content={InsetYTitle} />
          </YAxis>
          <YAxis
            yAxisId="r"
            orientation="right"
            type="number"
            domain={[-13, 159]}
            width={13}
            tick={false}
            tickLine={false}
            axisLine={{ stroke: "#777", strokeWidth: 1.3 }}
          />
          <Area
            data={insetRows}
            dataKey="y"
            type="linear"
            baseValue={0}
            fill="#FA00FA"
            fillOpacity={1}
            stroke="#000"
            strokeWidth={1.6}
            dot={false}
            activeDot={false}
            isAnimationActive={false}
          />
        </ComposedChart>
      </div>

      <svg width={830} height={1090} style={{ position: "absolute", left: 0, top: 0, pointerEvents: "none" }}>
        <g fontFamily={SERIF} fill="#000">
          <text x={178} y={72} fontSize={19}>115</text>
          <text x={205} y={93} fontSize={33}>In(2)</text>
          <text x={376} y={72} fontSize={19}>115</text>
          <text x={405} y={93} fontSize={33}>In (1)</text>
          <text x={701} y={128} fontSize={27}>T (mK)</text>
          <text x={458} y={207} fontSize={21}>50 mK</text>
        </g>
        <line x1={701} x2={781} y1={132} y2={132} stroke="#000" strokeWidth={1.5} />
      </svg>
    </div>
  )
}
